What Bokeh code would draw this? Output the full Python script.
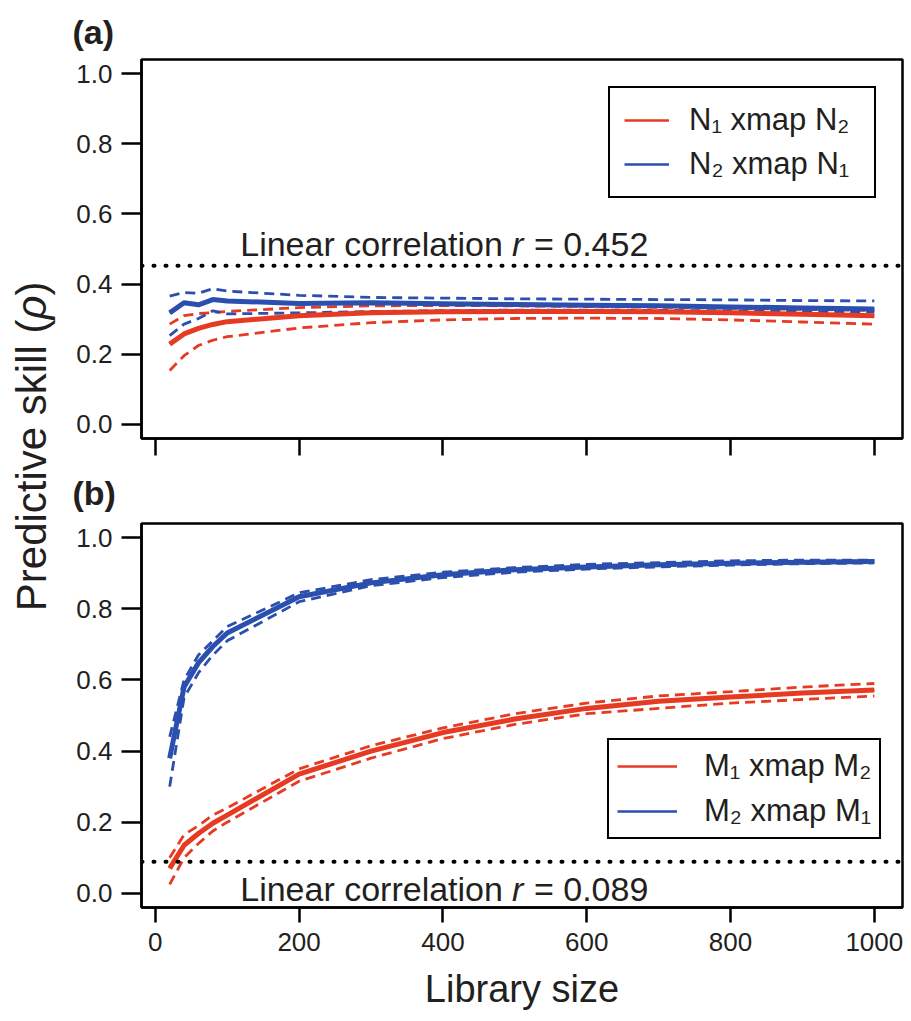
import math
from bokeh.plotting import figure
from bokeh.layouts import row, column
from bokeh.models import (Range1d, FixedTicker, NumeralTickFormatter, Span, Legend,
                          LegendItem, ColumnDataSource)
from bokeh.core.properties import value
from bokeh.embed import file_html
from bokeh.resources import INLINE

# ---------------- data ----------------
lib_size = [20, 40, 60, 80, 100, 200, 300, 400, 500, 600, 700, 800, 900, 1000]

# panel (a): N1 xmap N2 (red), N2 xmap N1 (blue)
a_red    = [0.229, 0.258, 0.274, 0.285, 0.293, 0.310, 0.318, 0.321, 0.322, 0.322, 0.321, 0.318, 0.314, 0.310]
a_red_hi = [0.286, 0.310, 0.316, 0.319, 0.322, 0.333, 0.338, 0.339, 0.338, 0.336, 0.334, 0.331, 0.328, 0.325]
a_red_lo = [0.154, 0.196, 0.225, 0.240, 0.250, 0.275, 0.290, 0.298, 0.302, 0.303, 0.302, 0.298, 0.292, 0.286]
a_blu    = [0.318, 0.347, 0.341, 0.356, 0.352, 0.345, 0.347, 0.344, 0.342, 0.340, 0.338, 0.335, 0.332, 0.329]
a_blu_hi = [0.366, 0.376, 0.374, 0.387, 0.380, 0.368, 0.362, 0.360, 0.358, 0.357, 0.356, 0.355, 0.353, 0.352]
a_blu_lo = [0.253, 0.286, 0.302, 0.324, 0.315, 0.318, 0.322, 0.324, 0.326, 0.326, 0.325, 0.324, 0.322, 0.320]
r_a = 0.452

# panel (b): M1 xmap M2 (red), M2 xmap M1 (blue)
b_red    = [0.070, 0.135, 0.168, 0.197, 0.220, 0.335, 0.400, 0.452, 0.490, 0.520, 0.540, 0.552, 0.563, 0.572]
b_red_hi = [0.100, 0.165, 0.190, 0.220, 0.240, 0.350, 0.415, 0.465, 0.505, 0.535, 0.555, 0.567, 0.580, 0.590]
b_red_lo = [0.025, 0.100, 0.140, 0.175, 0.200, 0.315, 0.380, 0.435, 0.475, 0.505, 0.520, 0.535, 0.545, 0.555]
b_blu    = [0.380, 0.580, 0.648, 0.694, 0.732, 0.834, 0.873, 0.896, 0.910, 0.918, 0.924, 0.928, 0.931, 0.933]
b_blu_hi = [0.440, 0.600, 0.670, 0.710, 0.750, 0.845, 0.882, 0.903, 0.916, 0.925, 0.930, 0.935, 0.937, 0.937]
b_blu_lo = [0.300, 0.550, 0.620, 0.670, 0.710, 0.820, 0.865, 0.888, 0.903, 0.912, 0.918, 0.923, 0.927, 0.929]
r_b = 0.089

x_ticks = [0, 200, 400, 600, 800, 1000]
y_ticks = [0.0, 0.2, 0.4, 0.6, 0.8, 1.0]

RED = "#e63a22"
BLUE = "#2b4fae"
TXT = "#231f20"
FONT = "Liberation Sans"


def make_panel(label, H, top, bottom, title_standoff, show_xlab, red, red_hi, red_lo,
               blu, blu_hi, blu_lo, r, leg_labels, leg_loc, leg_cfg, text_dy):
    p = figure(width=850, height=H, x_range=Range1d(-19.2, 1039.2), y_range=Range1d(-0.04, 1.04),
               output_backend="svg", toolbar_location=None,
               min_border_left=83, min_border_right=6, min_border_top=top, min_border_bottom=bottom,
               background_fill_color="white", border_fill_color="white", title=label)
    p.grid.visible = False
    p.outline_line_color = "black"
    p.outline_line_width = 2.5
    p.outline_line_alpha = 1.0

    p.title.align = "left"
    p.title.offset = -69
    p.title.standoff = title_standoff
    p.title.text_font = FONT
    p.title.text_font_size = "34px"
    p.title.text_font_style = "bold"
    p.title.text_color = TXT

    for ax in (p.xaxis[0], p.yaxis[0]):
        ax.axis_line_color = "black"
        ax.axis_line_width = 2.5
        ax.major_tick_line_color = "black"
        ax.major_tick_line_width = 2.5
        ax.minor_tick_line_color = None
        ax.major_tick_in = 0
        ax.major_label_text_font = FONT
        ax.major_label_text_font_size = "26px"
        ax.major_label_text_color = TXT

    if show_xlab:
        p.xaxis.ticker = FixedTicker(ticks=x_ticks)
        p.xaxis.major_tick_out = 15
        p.xaxis.major_label_standoff = 10
        p.xaxis.axis_label = "Library size"
        p.xaxis.axis_label_text_font = FONT
        p.xaxis.axis_label_text_font_size = "38px"
        p.xaxis.axis_label_text_font_style = "normal"
        p.xaxis.axis_label_text_color = TXT
        p.xaxis.axis_label_standoff = 14
    else:
        # tick marks only (no labels) -> use minor ticks at the label positions
        p.xaxis.ticker = FixedTicker(ticks=[], minor_ticks=x_ticks)
        p.xaxis.minor_tick_line_color = "black"
        p.xaxis.minor_tick_line_width = 2.5
        p.xaxis.minor_tick_in = 0
        p.xaxis.minor_tick_out = 17

    p.yaxis.ticker = FixedTicker(ticks=y_ticks)
    p.yaxis.formatter = NumeralTickFormatter(format="0.0")
    p.yaxis.major_tick_out = 20
    p.yaxis.major_label_standoff = 9

    src = ColumnDataSource(dict(x=lib_size, red=red, red_hi=red_hi, red_lo=red_lo,
                                blu=blu, blu_hi=blu_hi, blu_lo=blu_lo))

    # linear correlation reference line
    p.add_layout(Span(location=r, dimension="width", line_color="black", line_width=4,
                      line_dash="1 11", line_cap="round"))

    # thin lines (used for the legend samples, hidden under the thick lines)
    lr = p.line("x", "red", source=src, line_color=RED, line_width=2.5)
    lb = p.line("x", "blu", source=src, line_color=BLUE, line_width=2.5)
    for col, c in (("red_hi", RED), ("red_lo", RED), ("blu_hi", BLUE), ("blu_lo", BLUE)):
        p.line("x", col, source=src, line_color=c, line_width=2.8, line_dash="10 6")
    p.line("x", "red", source=src, line_color=RED, line_width=5, line_join="round")
    p.line("x", "blu", source=src, line_color=BLUE, line_width=5, line_join="round")

    # annotation text: "Linear correlation r = value"
    tsrc = ColumnDataSource(dict(x=[496], y=[r]))
    common = dict(source=tsrc, text_font=value(FONT), text_font_size="34px", text_color=TXT,
                  text_baseline="alphabetic", y_offset=text_dy)
    p.text("x", "y", text=value("Linear correlation"), text_align="right", x_offset=-9, **common)
    p.text("x", "y", text=value("r"), text_align="left", text_font_style="italic", x_offset=0, **common)
    p.text("x", "y", text=value("= %.3f" % r), text_align="left", x_offset=22, **common)

    leg = Legend(items=[LegendItem(label=leg_labels[0], renderers=[lr]),
                        LegendItem(label=leg_labels[1], renderers=[lb])],
                 location=leg_loc, border_line_color="black", border_line_width=2.5,
                 border_line_alpha=1.0,
                 background_fill_color="white", background_fill_alpha=1.0,
                 label_text_font=FONT, label_text_font_size="31px", label_text_color=TXT,
                 **leg_cfg)
    p.add_layout(leg)
    return p


HA = 59 + 379 + 20
HB = 65 + 384 + 112
pa = make_panel("(a)", HA, 59, 20, 17, False, a_red, a_red_hi, a_red_lo, a_blu, a_blu_hi, a_blu_lo,
                r_a, ["N\u2081 xmap N\u2082", "N\u2082 xmap N\u2081"], (467, 240),
                dict(padding=14, glyph_width=45, glyph_height=34, label_height=34, spacing=8,
                     label_standoff=20, label_width=171), -22)
pb = make_panel("(b)", HB, 65, 112, 24, True, b_red, b_red_hi, b_red_lo, b_blu, b_blu_hi, b_blu_lo,
                r_b, ["M\u2081 xmap M\u2082", "M\u2082 xmap M\u2081"], (466, 68),
                dict(padding=8, glyph_width=60, glyph_height=32, label_height=32, spacing=9,
                     label_standoff=27, label_width=163), 27)

# shared y-axis label
H_all = HA + HB
W_lab = 58
yl = figure(width=W_lab, height=H_all, x_range=Range1d(0, W_lab), y_range=Range1d(0, H_all),
            output_backend="svg", toolbar_location=None, min_border=0,
            outline_line_color=None, background_fill_color="white", border_fill_color="white")
yl.axis.visible = False
yl.grid.visible = False
ysrc = ColumnDataSource(dict(x=[31], y=[H_all - 319]))
ycommon = dict(source=ysrc, text_font=value(FONT), text_font_size="42px", text_color=TXT,
               text_baseline="middle", angle=math.pi / 2)
yl.text("x", "y", text=value("Predictive skill ("), text_align="right", **ycommon)
yl.text("x", "y", text=value("\u03c1"), text_align="left", text_font_style="italic", **ycommon)
yl.text("x", "y", text=value(")"), text_align="left", y_offset=-24, **ycommon)

layout = row(yl, column(pa, pb, spacing=0), spacing=0)

with open("out.html", "w") as f:
    f.write(file_html(layout, INLINE))
